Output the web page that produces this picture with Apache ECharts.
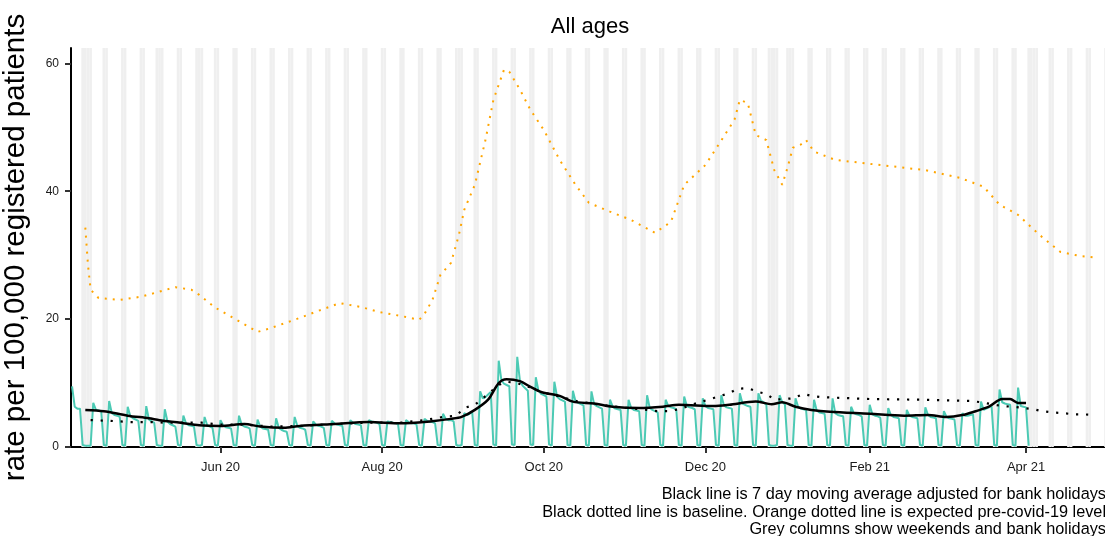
<!DOCTYPE html>
<html>
<head>
<meta charset="utf-8">
<script src="https://cdn.jsdelivr.net/npm/echarts@6/dist/echarts.min.js"></script>
<style>
  html, body { margin: 0; padding: 0; background: #ffffff; }
  #chart { width: 1105px; height: 536px; }
</style>
</head>
<body>
<div id="chart"></div>
<script>
// Daily consultation rate, one row per week (Mon..Sun), starting Monday 6 April 2020
const dailyStart = '2020-04-06';
const dailyRate = [
  9.5, 6.3, 6.0, 6.0, 0.3, 0.2, 0.2,
  0.2, 6.9, 5.8, 5.7, 5.6, 0.3, 0.2,
  7.2, 5.3, 5.0, 4.9, 4.7, 0.3, 0.2,
  6.3, 4.8, 4.5, 4.3, 4.1, 0.3, 0.2,
  6.4, 4.3, 4.0, 3.8, 0.3, 0.2, 0.2,
  5.9, 4.0, 3.6, 3.4, 3.2, 0.3, 0.2,
  4.9, 3.7, 3.4, 3.3, 3.2, 0.3, 0.2,
  0.3, 4.7, 3.4, 3.2, 3.0, 0.3, 0.2,
  4.2, 3.4, 3.1, 3.0, 2.9, 0.3, 0.2,
  4.9, 3.5, 3.2, 3.1, 2.9, 0.3, 0.2,
  4.3, 3.2, 2.9, 2.8, 2.7, 0.3, 0.2,
  4.5, 3.0, 2.7, 2.5, 2.4, 0.3, 0.2,
  4.7, 3.3, 3.0, 2.9, 2.7, 0.3, 0.2,
  4.0, 3.5, 3.3, 3.2, 3.0, 0.3, 0.2,
  4.1, 3.7, 3.5, 3.4, 3.3, 0.3, 0.2,
  4.2, 3.8, 3.6, 3.5, 3.4, 0.3, 0.2,
  4.2, 4.0, 3.9, 3.8, 3.6, 0.3, 0.2,
  4.0, 3.9, 3.8, 3.7, 3.6, 0.3, 0.2,
  4.2, 3.9, 3.7, 3.7, 3.5, 0.3, 0.2,
  4.4, 4.1, 3.9, 3.9, 3.7, 0.3, 0.2,
  5.2, 4.4, 4.2, 4.2, 4.0, 0.3, 0.2,
  0.3, 5.3, 5.0, 5.2, 5.5, 0.3, 0.2,
  8.7, 7.6, 7.8, 8.2, 8.6, 0.4, 0.2,
  13.5, 10.5, 9.9, 9.7, 9.5, 0.4, 0.3,
  14.1, 10.4, 9.6, 9.2, 8.8, 0.4, 0.3,
  10.9, 8.8, 8.3, 8.1, 7.9, 0.4, 0.2,
  10.2, 7.9, 7.5, 7.3, 7.1, 0.3, 0.2,
  8.8, 7.1, 6.9, 6.7, 6.5, 0.3, 0.2,
  8.7, 6.7, 6.4, 6.2, 6.0, 0.3, 0.2,
  7.4, 6.3, 6.0, 5.9, 5.8, 0.3, 0.2,
  7.4, 6.1, 5.8, 5.7, 5.6, 0.3, 0.2,
  8.1, 6.1, 5.8, 5.6, 5.4, 0.3, 0.2,
  7.4, 6.4, 6.2, 6.1, 5.9, 0.3, 0.2,
  7.9, 6.4, 6.2, 6.1, 5.9, 0.3, 0.2,
  7.6, 6.4, 6.1, 6.0, 5.9, 0.3, 0.2,
  8.1, 6.5, 6.2, 6.1, 6.0, 0.3, 0.2,
  8.4, 6.8, 6.6, 6.4, 6.3, 0.3, 0.2,
  8.4, 7.2, 7.0, 6.6, 0.3, 0.2, 0.2,
  0.3, 8.1, 7.0, 6.7, 0.3, 0.2, 0.2,
  7.6, 6.3, 6.0, 5.9, 5.8, 0.3, 0.2,
  7.4, 5.7, 5.4, 5.3, 5.2, 0.3, 0.2,
  7.6, 5.3, 5.0, 4.9, 4.8, 0.3, 0.2,
  6.3, 5.3, 5.1, 5.0, 4.8, 0.3, 0.2,
  6.6, 5.1, 4.9, 4.8, 4.6, 0.3, 0.2,
  6.1, 5.0, 4.7, 4.6, 4.5, 0.3, 0.2,
  5.8, 4.9, 4.7, 4.6, 4.5, 0.3, 0.2,
  6.2, 5.0, 4.7, 4.6, 4.5, 0.3, 0.2,
  5.6, 4.7, 4.5, 4.4, 4.3, 0.3, 0.2,
  5.3, 4.9, 4.9, 5.0, 5.1, 0.3, 0.2,
  7.1, 5.8, 6.0, 6.2, 6.4, 0.3, 0.2,
  9.0, 7.0, 6.8, 6.7, 6.6, 0.3, 0.2,
  9.3, 6.4, 6.3, 6.2, 0.2
];

// 7 day moving average adjusted for bank holidays
const maDates = [
  '2020-04-11','2020-04-18','2020-04-27','2020-05-05','2020-05-09','2020-05-17','2020-05-24',
  '2020-06-01','2020-06-10','2020-06-16','2020-06-25','2020-07-01','2020-07-14','2020-07-27',
  '2020-08-08','2020-08-19','2020-08-27','2020-08-31','2020-09-05','2020-09-10','2020-09-14',
  '2020-09-17','2020-09-22','2020-09-26','2020-09-30','2020-10-07','2020-10-12','2020-10-20',
  '2020-10-27','2020-11-06','2020-11-15','2020-11-21','2020-12-04','2020-12-10','2020-12-20',
  '2020-12-26','2020-12-30','2021-01-04','2021-01-10','2021-01-17','2021-02-01','2021-02-14',
  '2021-02-23','2021-03-02','2021-03-08','2021-03-13','2021-03-18','2021-03-23','2021-03-26',
  '2021-03-29','2021-04-01'
];
const maValues = [
  5.8, 5.6, 4.9, 4.5, 4.2, 3.8, 3.4,
  3.3, 3.6, 3.2, 3.0, 3.3, 3.6, 3.9,
  3.7, 4.0, 4.4, 4.7, 5.8, 7.4, 10.0,
  10.6, 10.3, 9.4, 8.6, 8.0, 7.1, 6.8,
  6.3, 6.1, 6.3, 6.6, 6.4, 6.6, 7.1,
  6.7, 7.0, 6.3, 5.8, 5.5, 5.2, 4.9,
  5.0, 4.7, 5.0, 5.6, 6.3, 7.5, 7.5,
  6.9, 6.9
];

// Baseline
const baselineDates = [
  '2020-04-13','2020-04-20','2020-04-28','2020-05-05','2020-05-12','2020-05-19','2020-05-25',
  '2020-06-01','2020-06-10','2020-06-20','2020-07-01','2020-07-14','2020-07-27','2020-08-08',
  '2020-08-17','2020-08-24','2020-08-29','2020-09-01','2020-09-05','2020-09-08','2020-09-14',
  '2020-09-17','2020-09-21','2020-09-26','2020-09-30','2020-10-07','2020-10-14','2020-10-21',
  '2020-10-28','2020-11-04','2020-11-09','2020-11-13','2020-11-17','2020-11-21','2020-11-28',
  '2020-12-02','2020-12-06','2020-12-10','2020-12-13','2020-12-17','2020-12-21','2020-12-24',
  '2020-12-27','2021-01-03','2021-01-07','2021-01-10','2021-01-14','2021-02-01','2021-02-20',
  '2021-03-11','2021-03-15','2021-03-23','2021-03-27','2021-03-31','2021-04-04','2021-04-07',
  '2021-04-11','2021-04-15','2021-04-19','2021-04-23','2021-04-27'
];
const baselineValues = [
  4.2, 4.1, 3.9, 3.9, 3.8, 3.8, 3.8,
  3.5, 3.5, 3.2, 3.3, 3.6, 3.8, 3.8,
  4.2, 4.7, 4.9, 6.1, 6.6, 7.6, 9.7,
  10.2, 10.0, 9.3, 8.6, 7.9, 7.1, 6.7,
  6.3, 6.0, 5.8, 5.6, 5.6, 5.9, 6.9,
  7.4, 7.9, 8.4, 9.1, 9.2, 8.6, 8.3,
  7.4, 7.6, 8.3, 8.0, 7.8, 7.5, 7.4,
  7.2, 7.0, 6.4, 6.3, 6.1, 5.9, 5.6,
  5.4, 5.3, 5.1, 5.1, 5.0
];

// Expected pre-covid-19 level
const expectedDates = [
  '2020-04-11','2020-04-12','2020-04-13','2020-04-16','2020-04-24','2020-05-02','2020-05-09',
  '2020-05-15','2020-05-21','2020-05-24','2020-05-30','2020-06-07','2020-06-15','2020-06-20',
  '2020-07-01','2020-07-08','2020-07-16','2020-07-24','2020-07-31','2020-08-08','2020-08-15',
  '2020-08-17','2020-08-20','2020-08-23','2020-08-27','2020-08-30','2020-09-01','2020-09-05',
  '2020-09-09','2020-09-12','2020-09-16','2020-09-18','2020-09-22','2020-09-26','2020-10-01',
  '2020-10-07','2020-10-13','2020-10-18','2020-10-26','2020-11-03','2020-11-12','2020-11-18',
  '2020-11-23','2020-12-01','2020-12-06','2020-12-12','2020-12-14','2020-12-17','2020-12-20',
  '2020-12-24','2020-12-27','2020-12-30','2021-01-01','2021-01-03','2021-01-06','2021-01-08',
  '2021-01-11','2021-01-19','2021-02-05','2021-02-22','2021-03-07','2021-03-16','2021-03-22',
  '2021-03-29','2021-04-06','2021-04-14','2021-04-21','2021-04-28'
];
const expectedValues = [
  34.3, 28.5, 24.6, 23.3, 23.0, 23.5, 24.3,
  25.0, 24.6, 23.8, 21.8, 19.9, 18.0, 18.6,
  20.2, 21.3, 22.5, 21.9, 21.1, 20.5, 19.9,
  20.8, 23.0, 26.9, 28.8, 33.2, 37.1, 41.0,
  48.0, 54.3, 59.0, 58.7, 55.9, 52.7, 49.6,
  44.9, 41.0, 38.2, 36.8, 35.5, 33.5, 35.2,
  41.0, 44.1, 47.3, 51.2, 54.3, 53.8, 48.8,
  48.0, 43.3, 41.0, 43.7, 46.8, 47.3, 48.0,
  46.2, 44.9, 44.1, 43.3, 42.1, 40.7, 37.9,
  36.3, 33.2, 30.5, 29.9, 29.6
];

// English bank holidays inside the plotted period
const bankHolidays = [
  '2020-04-10','2020-04-13','2020-05-08','2020-05-25','2020-08-31',
  '2020-12-25','2020-12-28','2021-01-01','2021-04-02','2021-04-05'
];

const xTickDates = ['2020-06-01','2020-08-01','2020-10-01','2020-12-01','2021-02-01','2021-04-01'];
const yTicks = [0, 20, 40, 60];
const chartTitle = 'All ages';
const yTitle = 'rate per 100,000 registered patients';
const captionLines = [
  'Black line is 7 day moving average adjusted for bank holidays',
  'Black dotted line is baseline. Orange dotted line is expected pre-covid-19 level',
  'Grey columns show weekends and bank holidays'
];

const DAY = 86400000;
const ts = s => { const p = s.split('-').map(Number); return Date.UTC(p[0], p[1] - 1, p[2]); };
const MONTHS = ['Jan','Feb','Mar','Apr','May','Jun','Jul','Aug','Sep','Oct','Nov','Dec'];

const xMin = ts('2020-04-05') + 0.6 * DAY;
const xMax = ts('2021-04-30') + 0.8 * DAY;

const start = ts(dailyStart);
const dailySeries = dailyRate.map((v, i) => [start + i * DAY, v]);
const pair = (dates, vals) => dates.map((d, i) => [ts(d), vals[i]]);

// Shaded columns for weekends and bank holidays
const holidaySet = new Set(bankHolidays.map(ts));
const columns = [];
for (let t = ts('2020-04-05'); t <= ts('2021-05-01'); t += DAY) {
  const wd = new Date(t).getUTCDay();
  if (wd === 0 || wd === 6 || holidaySet.has(t)) {
    columns.push([{ xAxis: Math.max(t - DAY / 2, xMin) }, { xAxis: Math.min(t + DAY / 2, xMax) }]);
  }
}

const font = 'Liberation Sans, Arial, sans-serif';
const chart = echarts.init(document.getElementById('chart'), null, { renderer: 'canvas' });

chart.setOption({
  animation: false,
  backgroundColor: '#ffffff',
  grid: { left: 71, right: 0, top: 48, bottom: 89, containLabel: false, outerBoundsMode: 'none' },
  xAxis: {
    type: 'value',
    min: xMin,
    max: xMax,
    axisLine: { show: true, lineStyle: { color: '#000000', width: 2 } },
    axisTick: {
      show: true, length: 6, customValues: xTickDates.map(ts),
      lineStyle: { color: '#333333', width: 2 }
    },
    axisLabel: {
      customValues: xTickDates.map(ts),
      margin: 14,
      color: '#1a1a1a',
      fontSize: 13,
      fontFamily: font,
      formatter: v => {
        const d = new Date(v);
        return MONTHS[d.getUTCMonth()] + ' ' + String(d.getUTCFullYear()).slice(2);
      }
    },
    splitLine: { show: false }
  },
  yAxis: {
    type: 'value',
    min: 0,
    max: 62.4,
    name: yTitle,
    nameLocation: 'middle',
    nameRotate: 90,
    nameGap: 40,
    nameTextStyle: { fontSize: 29.5, color: '#000000', fontFamily: font },
    axisLine: { show: true, lineStyle: { color: '#000000', width: 2 } },
    axisTick: { show: true, length: 6, customValues: yTicks, lineStyle: { color: '#333333', width: 2 } },
    axisLabel: { customValues: yTicks, margin: 12, color: '#1a1a1a', fontSize: 12, fontFamily: font },
    splitLine: { show: false }
  },
  graphic: [
    {
      type: 'text', x: 590, y: 27,
      style: { text: chartTitle, fill: '#000000', font: '22px ' + font, textAlign: 'center', textVerticalAlign: 'middle' }
    }
  ].concat(captionLines.map((line, i) => ({
    type: 'text', x: 1106, y: 495 + i * 17.5,
    style: { text: line, fill: '#000000', font: '16.3px ' + font, textAlign: 'right', textVerticalAlign: 'middle' }
  }))),
  series: [
    {
      name: 'daily',
      type: 'line',
      data: dailySeries,
      showSymbol: false,
      lineStyle: { color: '#4ccab4', width: 2 },
      z: 2,
      markArea: {
        silent: true,
        z: 1,
        itemStyle: { color: '#efefef' },
        data: columns
      }
    },
    {
      name: 'expected',
      type: 'line',
      data: pair(expectedDates, expectedValues),
      showSymbol: false,
      lineStyle: { color: '#ffa500', width: 2, type: [2, 6] },
      z: 3
    },
    {
      name: 'baseline',
      type: 'line',
      data: pair(baselineDates, baselineValues),
      showSymbol: false,
      lineStyle: { color: '#000000', width: 2.2, type: [2.2, 7.8] },
      z: 4
    },
    {
      name: 'moving average',
      type: 'line',
      data: pair(maDates, maValues),
      showSymbol: false,
      smooth: 0.3,
      lineStyle: { color: '#000000', width: 2.5 },
      z: 5
    }
  ]
});
</script>
</body>
</html>
